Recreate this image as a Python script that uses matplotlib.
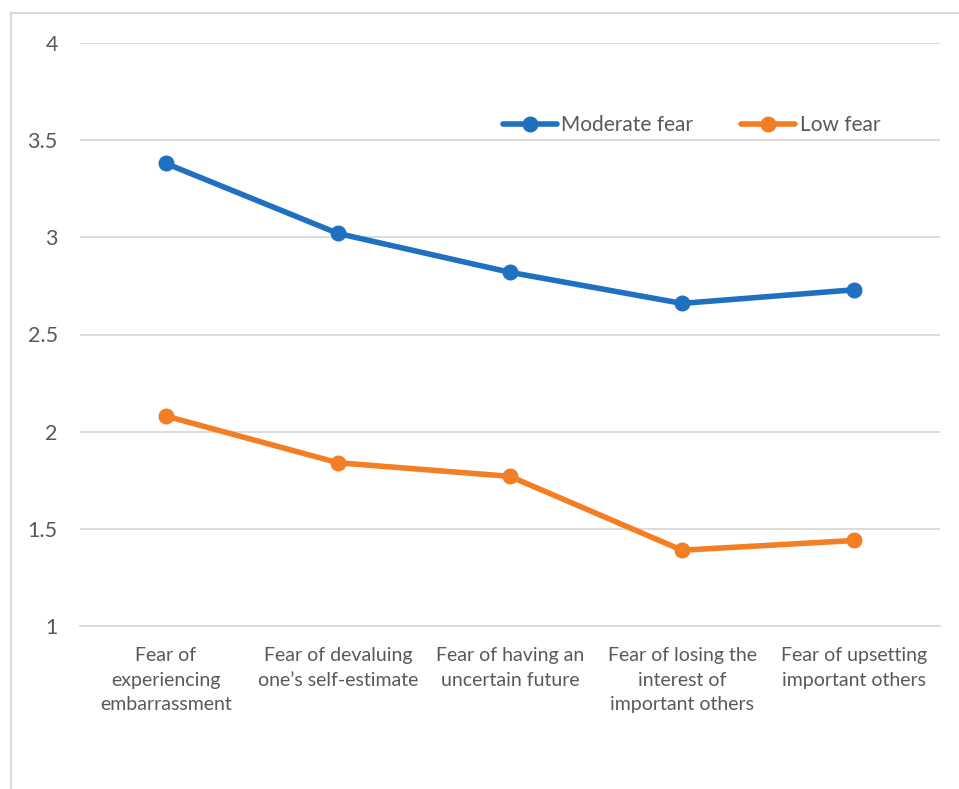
import matplotlib
matplotlib.use("Agg")
from matplotlib import pyplot as plt
from matplotlib.lines import Line2D

categories = [
    "Fear of\nexperiencing\nembarrassment",
    "Fear of devaluing\none\u2019s self-estimate",
    "Fear of having an\nuncertain future",
    "Fear of losing the\ninterest of\nimportant others",
    "Fear of upsetting\nimportant others",
]
moderate_fear = [3.38, 3.02, 2.82, 2.66, 2.73]
low_fear = [2.08, 1.84, 1.77, 1.39, 1.44]
y_ticks = [1, 1.5, 2, 2.5, 3, 3.5, 4]
y_tick_labels = ["1", "1.5", "2", "2.5", "3", "3.5", "4"]

plt.rcParams['font.family'] = ['Lato', 'DejaVu Sans']

fig = plt.figure(figsize=(9.59, 7.89), dpi=100)
ax = fig.add_axes([80 / 959, 1 - 626 / 789, 860 / 959, 583 / 789])

x = list(range(len(categories)))
ax.plot(x, moderate_fear, color="#1F70C1", lw=4.0, marker="o", markersize=10.5,
        label="Moderate fear", solid_capstyle="round")
ax.plot(x, low_fear, color="#F47E24", lw=4.0, marker="o", markersize=10.5,
        label="Low fear", solid_capstyle="round")

ax.set_xlim(-0.5, len(categories) - 0.5)
ax.set_ylim(1, 4)
ax.set_yticks(y_ticks)
ax.set_yticklabels(y_tick_labels)
ax.set_xticks(x)
ax.set_xticklabels(categories, linespacing=1.55)
ax.grid(axis="y", color="#D9D9D9", lw=1.3)
ax.set_axisbelow(True)
for s in ["top", "right", "left"]:
    ax.spines[s].set_visible(False)
ax.spines["bottom"].set_color("#D9D9D9")
ax.spines["bottom"].set_linewidth(1.3)
ax.tick_params(axis="both", length=0, colors="#595959")
ax.tick_params(axis="y", pad=16, labelsize=15.5)
ax.tick_params(axis="x", pad=15, labelsize=14)

ax.legend(loc="upper left", bbox_to_anchor=(0.47, 0.908), ncol=2, frameon=False,
          fontsize=15, labelcolor="#595959", handlelength=2.6,
          handletextpad=0.2, columnspacing=2.3)

# chart frame
fig.add_artist(Line2D([11 / 959, 11 / 959], [0, 1 - 13 / 789], color="#D9D9D9",
                      lw=1.5, transform=fig.transFigure))
fig.add_artist(Line2D([11 / 959, 1], [1 - 13 / 789, 1 - 13 / 789], color="#D9D9D9",
                      lw=1.5, transform=fig.transFigure))

fig.savefig("out.png", dpi=100)
